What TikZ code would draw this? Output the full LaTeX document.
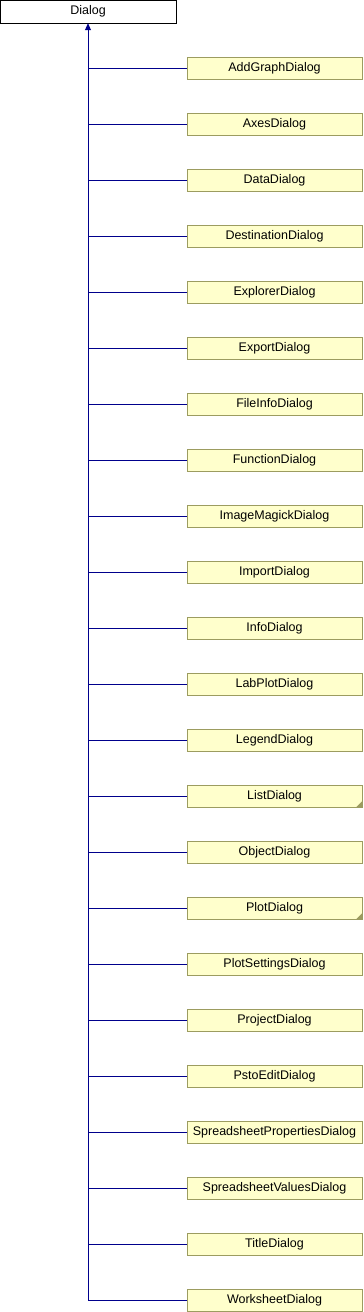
\documentclass[tikz,border=0pt]{standalone}
\usepackage{fontspec}
\setmainfont{Liberation Sans}
\usetikzlibrary{positioning,calc,arrows.meta}
\definecolor{edgeblue}{RGB}{0,0,140}
\definecolor{classfill}{RGB}{255,255,204}
\definecolor{classline}{RGB}{156,156,96}
\tikzset{
  base/.style={draw=black, fill=white, minimum width=176pt, minimum height=23pt,
    inner sep=0pt, font=\fontsize{12.5}{14}\selectfont},
  derived/.style={draw=classline, fill=classfill, minimum width=175pt, minimum height=22pt,
    inner sep=0pt, font=\fontsize{12.5}{14}\selectfont},
  inherit/.style={draw=edgeblue, line width=0.9pt},
}
\begin{document}
\begin{tikzpicture}[x=1pt, y=-1pt]
  \useasboundingbox (0,0) rectangle (364,1312);
  \node[base] (Dialog) at (88,11.5) {Dialog};
  % derived classes, one per row
  \foreach \name [count=\i from 0] in {AddGraphDialog, AxesDialog, DataDialog,
      DestinationDialog, ExplorerDialog, ExportDialog, FileInfoDialog,
      FunctionDialog, ImageMagickDialog, ImportDialog, InfoDialog,
      LabPlotDialog, LegendDialog, ListDialog, ObjectDialog, PlotDialog,
      PlotSettingsDialog, ProjectDialog, PstoEditDialog,
      SpreadsheetPropertiesDialog, SpreadsheetValuesDialog, TitleDialog,
      WorksheetDialog} {
    \node[derived] (\name) at (274.5,68+56*\i) {\name};
    \coordinate (t\i) at (88,68+56*\i);
    \draw[inherit] (t\i) -- (\name.west);
  }
  % folded corners
  \foreach \name in {ListDialog, PlotDialog} {
    \fill[classline] (\name.south east) -- ++(0,-6) -- ++(-6,6) -- cycle;
  }
  \draw[inherit, -{Triangle[width=6pt,length=7pt]}] (t22) -- (Dialog.south);
\end{tikzpicture}
\end{document}
